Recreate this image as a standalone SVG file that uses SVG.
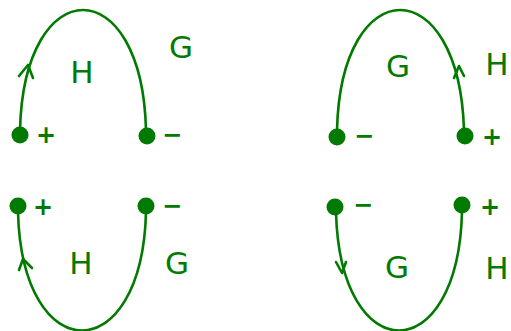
<svg xmlns="http://www.w3.org/2000/svg" width="511" height="331" viewBox="0 0 511 331">
<style>
.c{fill:none;stroke:#007a00;stroke-width:2.6;stroke-linecap:round;stroke-linejoin:round}
.d{fill:#007a00}
.t{fill:#007a00;font-family:"DejaVu Sans",sans-serif;font-size:31px;text-anchor:middle}
.s{fill:#007a00;font-family:"DejaVu Sans",sans-serif;font-size:24px;font-weight:bold;text-anchor:middle}
</style>
<rect width="511" height="331" fill="#fff"/>
<g id="connectors">
<path class="c" d="M20,130 C24,-30 142,-30 146,130"/>
<polyline class="c" points="19,76 28,65 33,78"/>
<path class="c" d="M337,130 C341,-30 459,-30 464,130"/>
<polyline class="c" points="454,78 459,66 464,76"/>
<path class="c" d="M18,212 C22,370 142,370 146,212"/>
<polyline class="c" points="19,270 23,259 32,268"/>
<path class="c" d="M336,212 C340,370 458,370 462,212"/>
<polyline class="c" points="336,262 342,273 346,262"/>
</g>
<g id="n1"><circle class="d" cx="20" cy="135" r="8.5"/><text class="s" x="46" y="143">+</text></g>
<g id="n2"><circle class="d" cx="147" cy="136" r="8.5"/><text class="s" x="172" y="143">−</text></g>
<g id="n3"><circle class="d" cx="337" cy="137" r="8.5"/><text class="s" x="364" y="144">−</text></g>
<g id="n4"><circle class="d" cx="465" cy="136" r="8.5"/><text class="s" x="492" y="145">+</text></g>
<g id="n5"><circle class="d" cx="18" cy="206" r="8.5"/><text class="s" x="43" y="215">+</text></g>
<g id="n6"><circle class="d" cx="146" cy="206" r="8.5"/><text class="s" x="172" y="214">−</text></g>
<g id="n7"><circle class="d" cx="335" cy="207" r="8.5"/><text class="s" x="363" y="213">−</text></g>
<g id="n8"><circle class="d" cx="462" cy="205" r="8.5"/><text class="s" x="490" y="215">+</text></g>
<g id="labels">
<text class="t" x="82" y="83">H</text>
<text class="t" x="181" y="58">G</text>
<text class="t" x="398" y="77">G</text>
<text class="t" x="497" y="75">H</text>
<text class="t" x="81" y="274">H</text>
<text class="t" x="177" y="274">G</text>
<text class="t" x="397" y="278">G</text>
<text class="t" x="497" y="279">H</text>
</g>
</svg>
